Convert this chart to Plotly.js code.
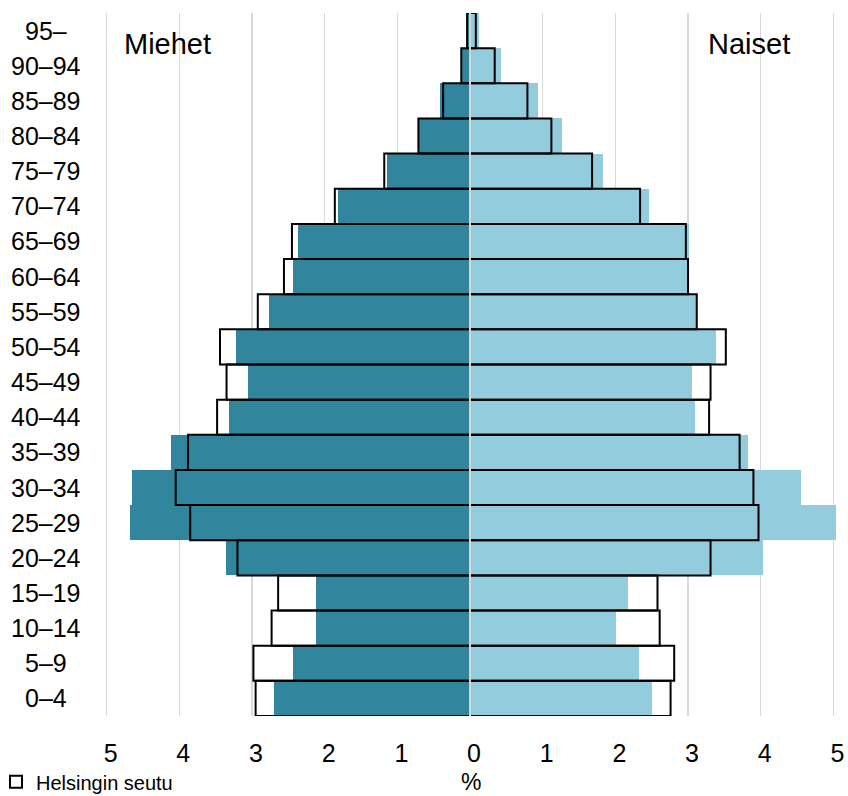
<!DOCTYPE html>
<html>
<head>
<meta charset="utf-8">
<script src="https://cdn.plot.ly/plotly-3.0.1.min.js"></script>
<style>
  html, body { margin: 0; padding: 0; background: #fff; }
  #chart { width: 848px; height: 796px; }
</style>
</head>
<body>
<div id="chart"></div>
<script>
// Age groups, bottom to top
const ages = ['0–4','5–9','10–14','15–19','20–24','25–29','30–34','35–39','40–44','45–49',
              '50–54','55–59','60–64','65–69','70–74','75–79','80–84','85–89','90–94','95–'];

// Share of population, % (filled bars)
const menCity   = [2.70,2.43,2.12,2.12,3.36,4.68,4.65,4.12,3.32,3.05,3.22,2.77,2.43,2.36,1.81,1.14,0.70,0.41,0.11,0.03];
const womenCity = [2.51,2.32,2.01,2.17,4.03,5.03,4.56,3.83,3.10,3.05,3.38,3.11,2.98,3.01,2.46,1.83,1.27,0.94,0.43,0.12];

// Helsingin seutu, % (outlined bars)
const menRegion   = [2.95,2.98,2.73,2.64,3.20,3.85,4.05,3.88,3.48,3.35,3.44,2.92,2.56,2.45,1.86,1.18,0.71,0.37,0.12,0.04];
const womenRegion = [2.76,2.81,2.61,2.58,3.31,3.97,3.90,3.71,3.29,3.31,3.52,3.12,3.00,2.97,2.34,1.68,1.12,0.79,0.34,0.08];

const xTickVals = [-5,-4,-3,-2,-1,0,1,2,3,4,5];
const xTickText = ['5','4','3','2','1','0','1','2','3','4','5'];

const FONT = 'Liberation Sans, Arial, sans-serif';
const neg = a => a.map(v => -v);

const traces = [
  { type:'bar', orientation:'h', y: ages, x: neg(menCity), name:'Helsinki',
    marker:{ color:'#31859C', line:{ width:0 } }, showlegend:false, hoverinfo:'skip' },
  { type:'bar', orientation:'h', y: ages, x: womenCity, name:'Helsinki',
    marker:{ color:'#93CDDD', line:{ width:0 } }, showlegend:false, hoverinfo:'skip' },
  { type:'bar', orientation:'h', y: ages, x: neg(menRegion), name:'Helsingin seutu',
    marker:{ color:'rgba(255,255,255,0)', line:{ color:'#000', width:2 } }, showlegend:true, hoverinfo:'skip' },
  { type:'bar', orientation:'h', y: ages, x: womenRegion, name:'Helsingin seutu',
    marker:{ color:'rgba(255,255,255,0)', line:{ color:'#000', width:2 } }, showlegend:false, hoverinfo:'skip' }
];

const annotations = ages.map(a => ({
  xref:'paper', yref:'y', x:-0.0777, y:a, text:a, showarrow:false,
  xanchor:'center', yanchor:'middle', font:{ family:FONT, size:25, color:'#000' }
}));
annotations.push(
  { xref:'paper', yref:'paper', x:0.026, y:0.956, text:'Miehet', showarrow:false,
    xanchor:'left', yanchor:'middle', font:{ family:FONT, size:29, color:'#000' } },
  { xref:'paper', yref:'paper', x:0.939, y:0.956, text:'Naiset', showarrow:false,
    xanchor:'right', yanchor:'middle', font:{ family:FONT, size:29, color:'#000' } },
  { xref:'paper', yref:'paper', x:0.501, y:-0.0945, text:'%', showarrow:false,
    xanchor:'center', yanchor:'middle', font:{ family:FONT, size:23, color:'#000' } }
);

const layout = {
  width:848, height:796,
  margin:{ l:103, r:11, t:13, b:80, autoexpand:false },
  paper_bgcolor:'#fff', plot_bgcolor:'#fff',
  barmode:'overlay', bargap:0,
  font:{ family:FONT, color:'#000' },
  xaxis:{
    range:[-5.05, 5.05], tickvals:xTickVals, ticktext:xTickText,
    showgrid:true, gridcolor:'#D9D9D9', gridwidth:1.5, zeroline:false,
    showline:false, ticks:'', ticklabelstandoff:20, ticklabelshift:4,
    tickfont:{ family:FONT, size:25, color:'#000' }, fixedrange:true, automargin:false
  },
  yaxis:{
    type:'category', categoryorder:'array', categoryarray:ages,
    showticklabels:false, showgrid:false, zeroline:false, showline:false, ticks:'',
    fixedrange:true, automargin:false
  },
  shapes:[
    { type:'line', xref:'x', yref:'paper', x0:0, x1:0, y0:0, y1:1, layer:'above',
      line:{ color:'#D4D4D4', width:2 } }
  ],
  showlegend:true,
  legend:{
    x:-0.1458, xanchor:'left', y:-0.0935, yanchor:'middle',
    bgcolor:'rgba(0,0,0,0)', borderwidth:0,
    font:{ family:FONT, size:20, color:'#000' }
  },
  annotations: annotations
};

Plotly.newPlot('chart', traces, layout, { displayModeBar:false, staticPlot:true });
</script>
</body>
</html>
